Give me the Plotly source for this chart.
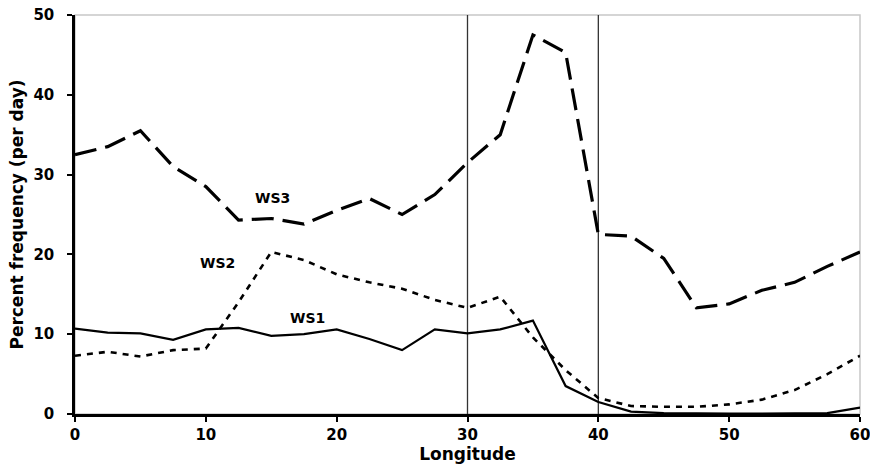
import plotly.graph_objects as go

longitude = [0, 2.5, 5, 7.5, 10, 12.5, 15, 17.5, 20, 22.5, 25, 27.5, 30,
             32.5, 35, 37.5, 40, 42.5, 45, 47.5, 50, 52.5, 55, 57.5, 60]
ws1 = [10.7, 10.2, 10.1, 9.3, 10.6, 10.8, 9.8, 10.0, 10.6, 9.4, 8.0, 10.6, 10.1,
       10.6, 11.7, 3.5, 1.5, 0.3, 0.1, 0.05, 0.05, 0.05, 0.05, 0.1, 0.8]
ws2 = [7.3, 7.8, 7.2, 8.0, 8.2, 14.0, 20.3, 19.3, 17.5, 16.5, 15.7, 14.3, 13.3,
       14.7, 9.6, 5.5, 2.0, 1.0, 0.9, 0.9, 1.2, 1.8, 3.0, 5.0, 7.3]
ws3 = [32.5, 33.5, 35.5, 31.0, 28.5, 24.3, 24.5, 23.8, 25.5, 27.0, 25.0, 27.5, 31.5,
       35.0, 47.5, 45.3, 22.5, 22.3, 19.5, 13.3, 13.8, 15.5, 16.5, 18.5, 20.3]
vlines = [30, 40]
labels = [("WS3", 15.1, 27.1), ("WS2", 10.9, 18.9), ("WS1", 17.8, 12.0)]

FONT = "DejaVu Sans"
fig = go.Figure()
fig.add_trace(go.Scatter(x=longitude, y=ws3, mode="lines",
                         line=dict(color="black", width=3.2, dash="22px,9px")))
fig.add_trace(go.Scatter(x=longitude, y=ws2, mode="lines",
                         line=dict(color="black", width=2.6, dash="6px,6px")))
fig.add_trace(go.Scatter(x=longitude, y=ws1, mode="lines",
                         line=dict(color="black", width=2.2)))

for v in vlines:
    fig.add_shape(type="line", x0=v, x1=v, y0=0, y1=50, xref="x", yref="y",
                  line=dict(color="#333333", width=1.3), layer="below")
fig.add_shape(type="rect", x0=0, x1=1, y0=0, y1=1, xref="paper", yref="paper",
              line=dict(color="#c8c8c8", width=1.5), layer="below")

for name, lx, ly in labels:
    fig.add_annotation(x=lx, y=ly, text="<b>" + name + "</b>", showarrow=False,
                       font=dict(family=FONT, size=14, color="black"))

fig.update_layout(
    width=870, height=472,
    margin=dict(l=75, r=10, t=15, b=58, autoexpand=False),
    paper_bgcolor="white", plot_bgcolor="white",
    showlegend=False,
    font=dict(family=FONT, color="black"),
)
fig.update_xaxes(range=[0, 60], tickvals=[0, 10, 20, 30, 40, 50, 60],
                 automargin=False, ticklabeloverflow="allow",
                 showgrid=False, zeroline=False, showline=True,
                 linecolor="black", linewidth=2.5, ticks="outside",
                 ticklen=5, tickwidth=2, tickcolor="black",
                 tickfont=dict(family=FONT, size=15, color="black", weight="bold"),
                 title=dict(text="<b>Longitude</b>", standoff=2,
                            font=dict(family=FONT, size=17, color="black")))
fig.update_yaxes(range=[0, 50], tickvals=[0, 10, 20, 30, 40, 50],
                 automargin=False, ticklabeloverflow="allow",
                 ticklabelstandoff=10,
                 showgrid=False, zeroline=False, showline=True,
                 linecolor="black", linewidth=2.5, ticks="outside",
                 ticklen=5, tickwidth=2, tickcolor="black",
                 tickfont=dict(family=FONT, size=15, color="black", weight="bold"),
                 title=dict(text="<b>Percent frequency (per day)</b>", standoff=6,
                            font=dict(family=FONT, size=17, color="black")))

fig.write_html("out.html", config={"displayModeBar": False},
               post_script="document.body.style.margin='0';document.body.style.overflow='hidden';")
